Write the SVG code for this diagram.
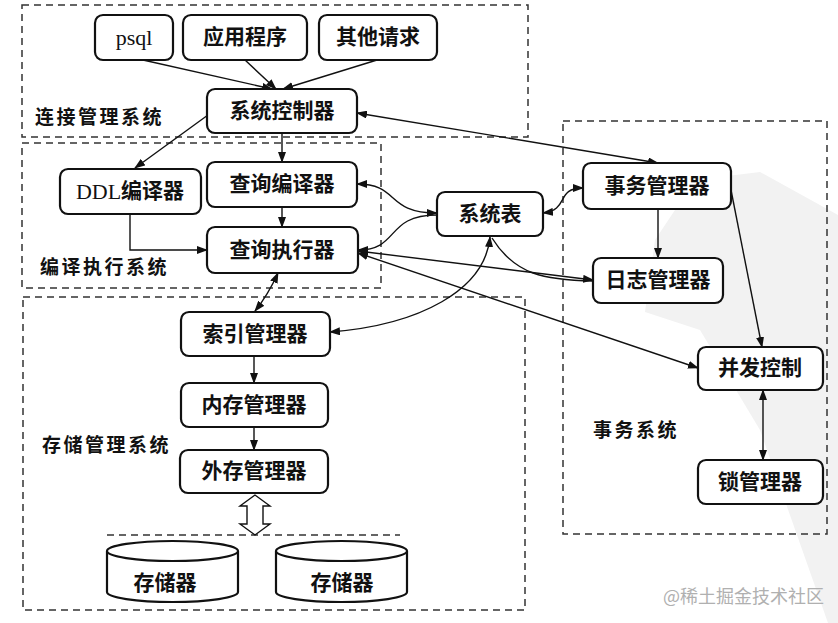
<svg xmlns="http://www.w3.org/2000/svg" width="838" height="623" viewBox="0 0 838 623">
<style>
.grp{fill:none;stroke:#333;stroke-width:1.5;stroke-dasharray:7 5}
.nd{fill:#fff;stroke:#111;stroke-width:2.2}
.t{font-family:"Liberation Serif","Noto Sans CJK SC",serif;font-size:21px;font-weight:bold;fill:#111;text-anchor:middle;dominant-baseline:central}
.lat{font-weight:normal;font-size:22px}
.lb{font-family:"Noto Sans CJK SC",sans-serif;font-size:19px;font-weight:bold;fill:#111;dominant-baseline:central;letter-spacing:2.5px}
.c{fill:none;stroke:#111;stroke-width:1.4}
.wm{font-family:"Noto Sans CJK SC",sans-serif;font-size:18px;fill:#b0b0b0;dominant-baseline:central}
</style>
<defs>
<marker id="ah" markerWidth="11" markerHeight="8" refX="10" refY="4" orient="auto-start-reverse" markerUnits="userSpaceOnUse">
<path d="M0,0 L11,4 L0,8 Z" fill="#111"/>
</marker>
</defs>
<rect width="838" height="623" fill="#fff"/>
<polygon points="695,180 760,172 838,215 838,623 828,623 760,430 700,330 645,312 655,240" fill="#f2f2f2"/>

<g id="groups">
<rect class="grp" x="22" y="5" width="506" height="132"/>
<rect class="grp" x="22" y="143" width="359" height="145"/>
<rect class="grp" x="23" y="297" width="502" height="313"/>
<rect class="grp" x="563" y="121" width="264" height="413"/>
<line class="grp" x1="107" y1="535" x2="400" y2="535"/>
</g>

<g id="labels">
<text class="lb" x="35" y="115">连接管理系统</text>
<text class="lb" x="40" y="265">编译执行系统</text>
<text class="lb" x="42" y="443">存储管理系统</text>
<text class="lb" x="593" y="428">事务系统</text>
</g>

<g id="connectors">
<line class="c" x1="143" y1="60" x2="272" y2="89" marker-end="url(#ah)"/>
<line class="c" x1="245" y1="60" x2="276" y2="89" marker-end="url(#ah)"/>
<line class="c" x1="377" y1="60" x2="283" y2="89" marker-end="url(#ah)"/>
<line class="c" x1="208" y1="115" x2="135" y2="168" marker-end="url(#ah)"/>
<line class="c" x1="282" y1="133" x2="282" y2="162" marker-end="url(#ah)"/>
<line class="c" x1="282" y1="207" x2="282" y2="227" marker-end="url(#ah)"/>
<polyline class="c" points="130,214 130,250 207,250" marker-end="url(#ah)"/>
<line class="c" x1="357" y1="113" x2="658" y2="163" marker-start="url(#ah)" marker-end="url(#ah)"/>
<path class="c" d="M357,184 C400,184 385,213 437,213" marker-start="url(#ah)" marker-end="url(#ah)"/>
<path class="c" d="M358,250 C400,250 385,215 437,215" marker-start="url(#ah)"/>
<path class="c" d="M543,213 C570,210 555,188 583,188" marker-start="url(#ah)" marker-end="url(#ah)"/>
<line class="c" x1="658" y1="209" x2="658" y2="258" marker-end="url(#ah)"/>
<line class="c" x1="358" y1="251" x2="593" y2="280" marker-start="url(#ah)" marker-end="url(#ah)"/>
<path class="c" d="M492,238 C515,275 545,280 593,281"/>
<line class="c" x1="358" y1="253" x2="698" y2="368" marker-start="url(#ah)" marker-end="url(#ah)"/>
<line class="c" x1="731" y1="190" x2="762" y2="347" marker-end="url(#ah)"/>
<line class="c" x1="763" y1="390" x2="763" y2="460" marker-start="url(#ah)" marker-end="url(#ah)"/>
<path class="c" d="M278,273 Q268,295 255,311" marker-start="url(#ah)" marker-end="url(#ah)"/>
<path class="c" d="M330,332 C420,325 485,290 490,237" marker-start="url(#ah)" marker-end="url(#ah)"/>
<line class="c" x1="254" y1="356" x2="254" y2="383" marker-end="url(#ah)"/>
<line class="c" x1="254" y1="427" x2="254" y2="450" marker-end="url(#ah)"/>
<polygon points="255,495 240,506 247,506 247,524 240,524 255,535 270,524 263,524 263,506 270,506" fill="#fff" stroke="#111" stroke-width="1.4"/>
</g>

<g id="psql"><rect class="nd" x="95" y="15" width="78" height="45" rx="8"/><text class="t" x="134" y="37"><tspan class="lat">psql</tspan></text></g>
<g id="app"><rect class="nd" x="183" y="15" width="124" height="45" rx="8"/><text class="t" x="245" y="37">应用程序</text></g>
<g id="other"><rect class="nd" x="319" y="15" width="118" height="45" rx="8"/><text class="t" x="378" y="37">其他请求</text></g>
<g id="sysctl"><rect class="nd" x="207" y="89" width="150" height="44" rx="8"/><text class="t" x="282" y="111">系统控制器</text></g>
<g id="ddl"><rect class="nd" x="60" y="169" width="141" height="45" rx="8"/><text class="t" x="130" y="191"><tspan class="lat">DDL</tspan>编译器</text></g>
<g id="qcomp"><rect class="nd" x="207" y="162" width="150" height="45" rx="8"/><text class="t" x="282" y="184">查询编译器</text></g>
<g id="qexec"><rect class="nd" x="207" y="227" width="151" height="46" rx="8"/><text class="t" x="282" y="250">查询执行器</text></g>
<g id="systab"><rect class="nd" x="437" y="192" width="106" height="44" rx="8"/><text class="t" x="490" y="214">系统表</text></g>
<g id="txmgr"><rect class="nd" x="583" y="163" width="148" height="46" rx="8"/><text class="t" x="657" y="186">事务管理器</text></g>
<g id="logmgr"><rect class="nd" x="593" y="258" width="130" height="45" rx="8"/><text class="t" x="658" y="280">日志管理器</text></g>
<g id="conc"><rect class="nd" x="698" y="347" width="125" height="43" rx="8"/><text class="t" x="760" y="368">并发控制</text></g>
<g id="lock"><rect class="nd" x="698" y="460" width="125" height="44" rx="8"/><text class="t" x="760" y="482">锁管理器</text></g>
<g id="idx"><rect class="nd" x="181" y="312" width="149" height="44" rx="8"/><text class="t" x="255" y="334">索引管理器</text></g>
<g id="mem"><rect class="nd" x="181" y="383" width="147" height="44" rx="8"/><text class="t" x="254" y="405">内存管理器</text></g>
<g id="ext"><rect class="nd" x="180" y="450" width="148" height="43" rx="8"/><text class="t" x="254" y="471">外存管理器</text></g>
<g id="store1"><path class="nd" d="M107,551 L107,592 A65.5,10 0 0 0 238,592 L238,551"/><ellipse class="nd" cx="172.5" cy="551" rx="65.5" ry="10"/><text class="t" x="165" y="583">存储器</text></g>
<g id="store2"><path class="nd" d="M276,551 L276,592 A65.5,10 0 0 0 407,592 L407,551"/><ellipse class="nd" cx="341.5" cy="551" rx="65.5" ry="10"/><text class="t" x="342" y="583">存储器</text></g>

<text class="wm" x="663" y="595">@稀土掘金技术社区</text>
</svg>
